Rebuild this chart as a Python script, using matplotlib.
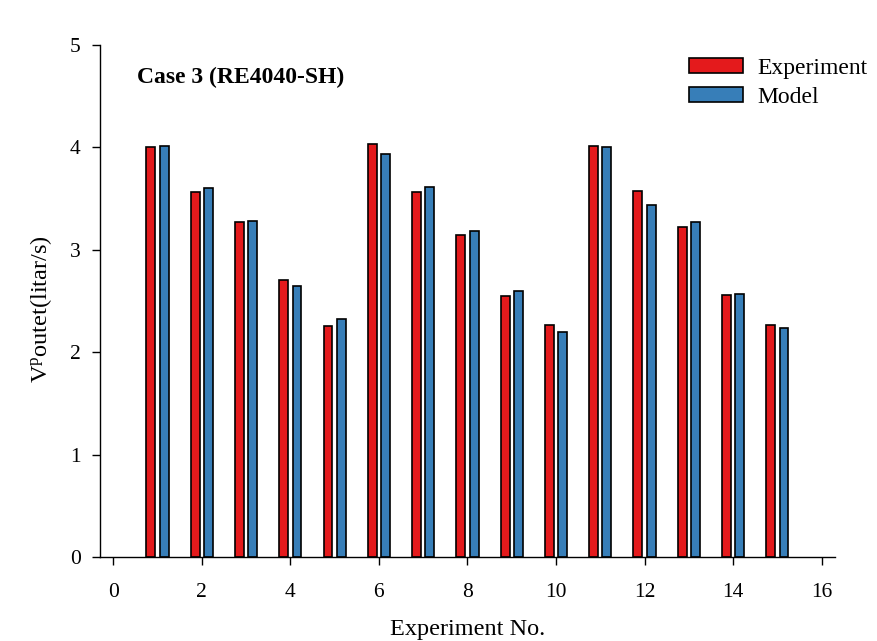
import matplotlib
matplotlib.use("Agg")
import matplotlib.pyplot as plt
import numpy as np

plt.rcParams['font.family'] = ['Liberation Serif', 'DejaVu Serif']
plt.rcParams['mathtext.fontset'] = 'custom'
plt.rcParams['mathtext.rm'] = 'Liberation Serif'
plt.rcParams['mathtext.it'] = 'Liberation Serif:italic'

experiments = list(range(1, 16))
experiment_vals = [4.00, 3.56, 3.27, 2.70, 2.26, 4.03, 3.56, 3.14, 2.55, 2.27,
                   4.01, 3.57, 3.22, 2.56, 2.27]
model_vals = [4.01, 3.60, 3.28, 2.65, 2.32, 3.93, 3.61, 3.18, 2.60, 2.20,
              4.00, 3.44, 3.27, 2.57, 2.24]
x_ticks = [0, 2, 4, 6, 8, 10, 12, 14, 16]
y_ticks = [0, 1, 2, 3, 4, 5]

red = '#E41A1C'
blue = '#377EB8'

fig = plt.figure(figsize=(8.77, 6.41), dpi=100)
ax = fig.add_axes([0.114, 0.131, 0.838, 0.799])

x = np.array(experiments)
w = 0.2
ax.bar(x - 0.15, experiment_vals, width=w, color=red, edgecolor='black',
       linewidth=1.2, label='Experiment')
ax.bar(x + 0.15, model_vals, width=w, color=blue, edgecolor='black',
       linewidth=1.2, label='Model')

ax.set_xlim(-0.3, 16.3)
ax.set_ylim(0, 5)
ax.set_xticks(x_ticks)
ax.set_yticks(y_ticks)
ax.tick_params(direction='out', length=6, width=1, labelsize=15.5)
ax.tick_params(axis='x', pad=13)
ax.tick_params(axis='y', pad=8)

for side in ('top', 'right'):
    ax.spines[side].set_visible(False)
for side in ('left', 'bottom'):
    ax.spines[side].set_linewidth(1)

ax.set_xlabel('Experiment No.', fontsize=17.5, labelpad=12)
ax.set_ylabel(r'V$^{\mathregular{p}}$outet(litar/s)', fontsize=17.5)
ax.yaxis.set_label_coords(-0.062, 0.484)

ax.text(0.050, 0.936, 'Case 3 (RE4040-SH)', transform=ax.transAxes,
        fontsize=17, fontweight='bold', va='center', ha='left')

ax.legend(loc='upper left', bbox_to_anchor=(689 / 877, 1 - 58 / 641),
          bbox_transform=fig.transFigure, frameon=False,
          fontsize=17, handlelength=2.3, handleheight=0.6,
          handletextpad=0.6, labelspacing=0.32, borderpad=0, borderaxespad=0)

fig.savefig('out.png', dpi=100)
